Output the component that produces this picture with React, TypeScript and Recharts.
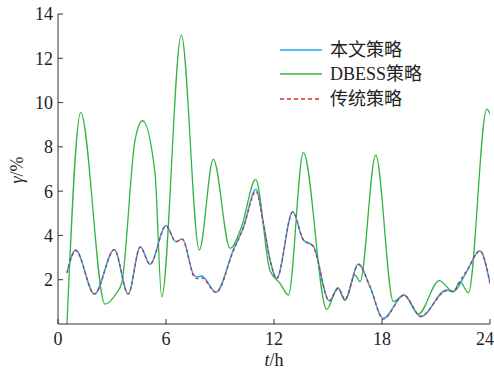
import React from "react";
import { LineChart, Line, XAxis, YAxis } from "recharts";

const xTicks = [0, 6, 12, 18, 24];
const yTicks = [2, 4, 6, 8, 10, 12, 14];

const seriesNames = ["本文策略", "DBESS策略", "传统策略"];
const seriesColors = ["#19aef0", "#33b43f", "#e3222c"];

// 本文策略
const proposedT = [0.5, 0.98, 2.02, 3.13, 3.9, 4.57, 5.11, 6.0, 6.54, 6.91, 7.55, 7.75, 7.98, 8.78, 9.74, 10.3, 11.0, 11.4, 11.78, 12.15, 13.04, 13.63, 14.18, 15.07, 15.57, 15.94, 16.69, 17.33, 18.07, 19.22, 20.15, 21.59, 21.96, 22.7, 23.44, 24.0];
const proposedV = [2.33, 3.34, 1.35, 3.37, 1.35, 3.49, 2.7, 4.45, 3.72, 3.84, 2.2, 2.12, 2.17, 1.43, 3.34, 4.37, 6.08, 4.6, 2.9, 2.06, 5.07, 3.79, 3.52, 1.05, 1.61, 1.11, 2.71, 1.69, 0.25, 1.31, 0.33, 1.54, 1.46, 2.36, 3.31, 1.84];

// DBESS策略
const dbessT = [0.5, 1.26, 2.61, 3.26, 3.54, 4.28, 4.7, 5.39, 5.76, 6.85, 7.85, 8.63, 9.56, 10.2, 10.98, 11.78, 12.33, 12.8, 13.63, 14.93, 15.54, 15.94, 16.5, 16.78, 17.65, 18.63, 19.22, 20.02, 21.18, 21.96, 22.33, 22.8, 23.82, 24.0];
const dbessV = [0.0, 9.55, 0.9, 1.41, 1.85, 8.3, 9.18, 6.8, 1.23, 13.05, 3.34, 7.45, 3.42, 4.4, 6.53, 2.4, 1.84, 1.31, 7.74, 0.66, 1.64, 1.06, 2.21, 1.91, 7.63, 1.01, 1.31, 0.45, 1.96, 1.46, 1.91, 1.41, 9.7, 9.5];

// 传统策略
const traditionalT = [0.5, 0.98, 2.02, 3.13, 3.9, 4.57, 5.11, 6.0, 6.54, 6.91, 7.55, 7.75, 7.98, 8.78, 9.74, 10.3, 11.0, 11.4, 11.78, 12.15, 13.04, 13.63, 14.18, 15.07, 15.57, 15.94, 16.69, 17.33, 18.07, 19.22, 20.15, 21.59, 21.96, 22.45, 22.7, 23.44, 24.0];
const traditionalV = [2.3, 3.32, 1.36, 3.35, 1.36, 3.47, 2.7, 4.43, 3.72, 3.82, 2.15, 2.05, 2.08, 1.43, 3.3, 4.35, 6.0, 4.6, 2.9, 2.06, 5.05, 3.8, 3.5, 1.05, 1.6, 1.11, 2.68, 1.7, 0.22, 1.3, 0.35, 1.5, 1.48, 2.1, 2.4, 3.3, 1.84];

const toRows = (ts: number[], vs: number[]) => ts.map((t, i) => ({ t, v: vs[i] }));

const proposedData = toRows(proposedT, proposedV);
const dbessData = toRows(dbessT, dbessV);
const traditionalData = toRows(traditionalT, traditionalV);

const FONT = "'Liberation Serif', 'Noto Sans CJK SC', serif";

export default function App() {
  const legendRows = [
    { name: seriesNames[0], color: seriesColors[0], dash: undefined as string | undefined, y: 50 },
    { name: seriesNames[1], color: seriesColors[1], dash: undefined as string | undefined, y: 74 },
    { name: seriesNames[2], color: seriesColors[2], dash: "4 3", y: 99 },
  ];
  return (
    <div style={{ position: "absolute", left: 0, top: 0, width: 494, height: 371, background: "#fff", fontFamily: FONT }}>
      <LineChart width={494} height={371} margin={{ top: 14, right: 4, bottom: 17, left: 18 }}>
        <XAxis
          type="number"
          dataKey="t"
          domain={[0, 24]}
          ticks={xTicks}
          allowDataOverflow
          height={30}
          tickSize={-5}
          tickMargin={13}
          stroke="#333"
          tick={{ fill: "#222", fontSize: 18, fontFamily: FONT }}
        />
        <YAxis
          type="number"
          domain={[0, 14]}
          ticks={yTicks}
          allowDataOverflow
          width={40}
          tickSize={-5}
          tickMargin={10}
          stroke="#333"
          tick={{ fill: "#222", fontSize: 18, fontFamily: FONT }}
        />
        <Line data={dbessData} dataKey="v" type="monotone" stroke={seriesColors[1]} strokeWidth={1.3} dot={false} isAnimationActive={false} />
        <Line data={proposedData} dataKey="v" type="monotone" stroke={seriesColors[0]} strokeWidth={1.5} dot={false} isAnimationActive={false} />
        <Line data={traditionalData} dataKey="v" type="monotone" stroke={seriesColors[2]} strokeWidth={1.3} strokeDasharray="3 3" dot={false} isAnimationActive={false} />
      </LineChart>
      {legendRows.map((r) => (
        <div key={r.name}>
          <svg style={{ position: "absolute", left: 280, top: r.y - 3 }} width={42} height={6}>
            <line x1={0} y1={3} x2={42} y2={3} stroke={r.color} strokeWidth={1.5} strokeDasharray={r.dash} />
          </svg>
          <div style={{ position: "absolute", left: 330, top: r.y - 12, fontSize: 18, lineHeight: "24px", color: "#222", whiteSpace: "nowrap" }}>
            {r.name}
          </div>
        </div>
      ))}
      <div style={{ position: "absolute", left: 274, top: 350, transform: "translateX(-50%)", fontSize: 18, lineHeight: "20px", color: "#222", whiteSpace: "nowrap" }}>
        <i>t</i>/h
      </div>
      <div style={{ position: "absolute", left: 17, top: 170, transform: "translate(-50%, -50%) rotate(-90deg)", fontSize: 18, lineHeight: "20px", color: "#222", whiteSpace: "nowrap" }}>
        <i>γ</i>/%
      </div>
    </div>
  );
}
